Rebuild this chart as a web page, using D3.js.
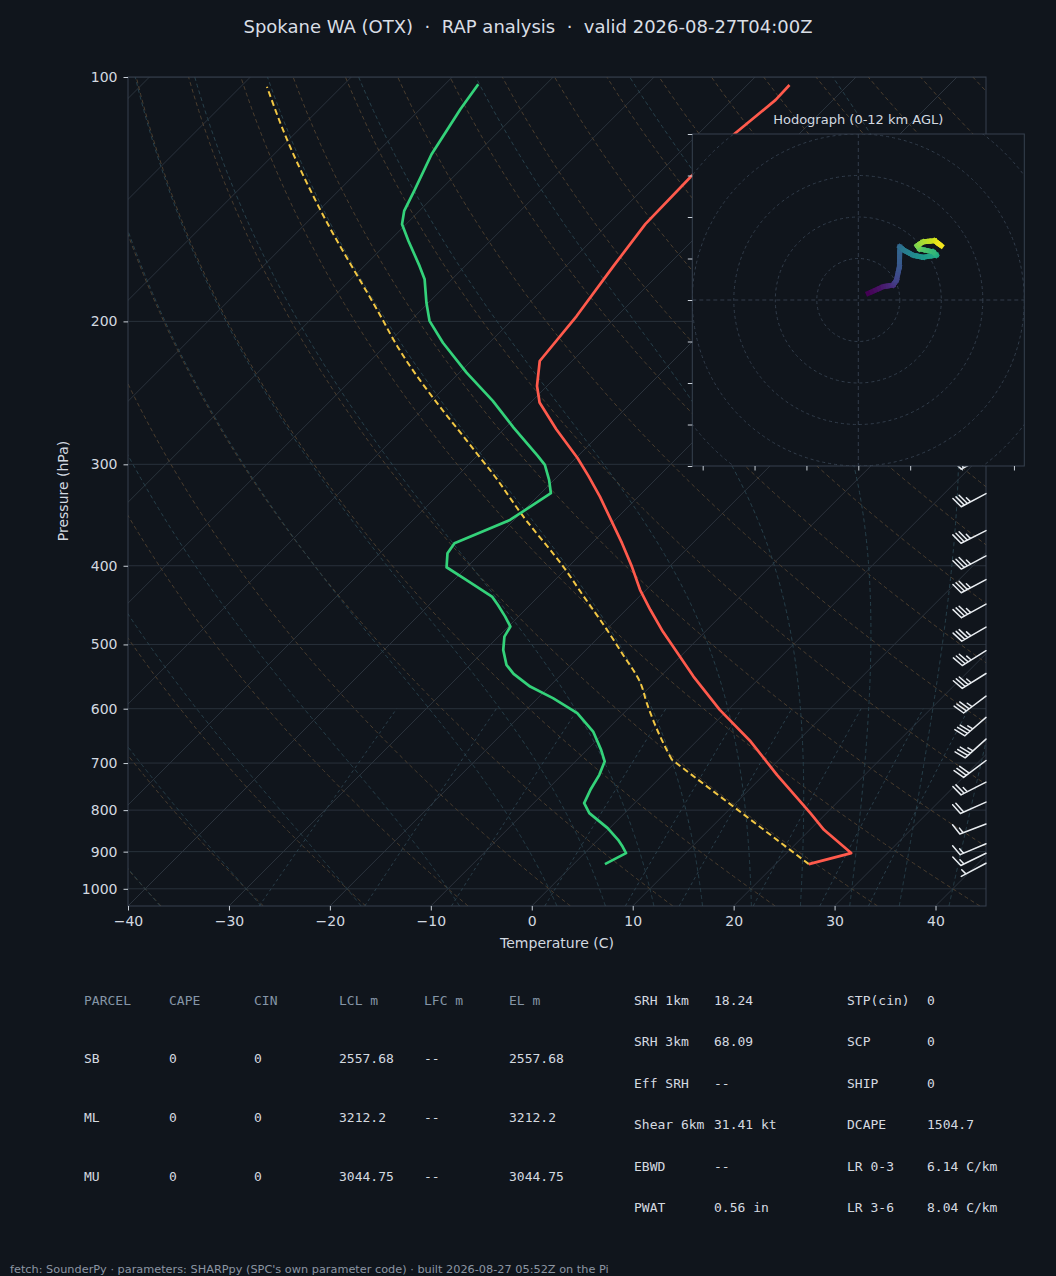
<!DOCTYPE html>
<html>
<head>
<meta charset="utf-8">
<script src="https://cdn.jsdelivr.net/npm/d3@7"></script>
<style>
  body { margin: 0; background: #10151c; }
  text { font-family: "DejaVu Sans", sans-serif; }
  .mono { font-family: "DejaVu Sans Mono", monospace; }
</style>
</head>
<body>
<svg id="chart" width="1056" height="1276"></svg>
<script>
// ---- sounding data ----
const tempP = [932.4, 903.7, 845.9, 806.8, 723.8, 658.6, 602.0, 547.8, 482.1, 453.2, 428.2, 401.0, 375.2, 328.8, 310.0, 294.4, 271.6, 251.8, 240.2, 223.8, 197.0, 171.0, 151.8, 132.4, 117.3, 106.7, 102.3];
const tempC = [23.3, 26.4, 21.4, 18.4, 11.3, 5.4, -0.8, -6.7, -14.2, -17.6, -20.6, -23.7, -27.0, -33.8, -37.0, -39.9, -44.8, -49.1, -51.0, -53.2, -54.0, -55.3, -56.3, -56.5, -56.4, -55.7, -55.8];

const dewP = [932.4, 903.7, 887.0, 870.4, 841.8, 806.8, 784.3, 755.2, 723.8, 696.8, 674.3, 640.2, 607.6, 582.2, 563.5, 543.5, 529.8, 507.8, 489.0, 475.3, 462.1, 446.9, 436.5, 416.4, 401.7, 386.0, 375.2, 351.3, 325.6, 313.5, 300.5, 292.9, 270.3, 250.6, 231.3, 212.5, 199.7, 189.7, 177.5, 171.0, 159.2, 151.8, 146.2, 138.1, 124.5, 109.6, 102.1];
const dewC = [3.1, 4.1, 3.1, 2.0, -0.2, -3.5, -5.0, -5.7, -6.3, -7.1, -8.6, -11.2, -14.6, -18.5, -21.9, -24.8, -26.4, -28.2, -29.4, -29.8, -31.3, -33.2, -34.6, -38.8, -42.0, -43.3, -43.6, -40.4, -39.0, -40.5, -42.4, -44.0, -49.2, -53.9, -59.3, -64.6, -68.1, -70.2, -72.7, -74.5, -78.1, -80.4, -81.5, -82.5, -84.4, -86.0, -86.7];

// parcel: surface, LCL, then the saturated ascent
const parcelP = [932.4, 693.5, 661.6, 590.6, 558.1, 512.6, 479.8, 436.5, 401.0, 348.0, 308.5, 288.0, 214.9, 196.0, 145.8, 119.6, 102.8];
const parcelC = [23.3, -0.6, -3.1, -8.7, -11.3, -16.1, -19.9, -25.5, -30.5, -39.4, -46.6, -50.9, -68.7, -73.7, -89.9, -100.1, -107.4];
const lclIndex = 1;

const barbP = [930, 904, 880, 832, 782, 739, 695, 654, 615, 579, 543, 509, 476, 446, 416, 389, 362, 326, 293];
const barbSpd = [6, 14, 16, 15, 20, 24, 29, 34, 35, 33, 34, 36, 35, 34, 35, 36, 35, 35, 36];
const barbDir = [242, 244, 247, 249, 246, 243, 233, 228, 229, 233, 238, 238, 240, 241, 242, 242, 243, 242, 242];

const hodoU = [2.4, 6.0, 8.4, 9.2, 9.9, 10.0, 11.0, 13.2, 15.6, 18.8, 18.0, 14.8, 14.2, 15.6, 18.4, 20.0];
const hodoV = [1.6, 3.2, 3.6, 4.8, 8.0, 12.8, 12.0, 10.8, 10.3, 10.8, 11.6, 12.3, 13.1, 14.0, 14.3, 13.1];

const tempTicks = [-40, -30, -20, -10, 0, 10, 20, 30, 40];
const presTicks = [100, 200, 300, 400, 500, 600, 700, 800, 900, 1000];

const parcelHead = ["PARCEL", "CAPE", "CIN", "LCL m", "LFC m", "EL m"];
const parcelNames = ["SB", "ML", "MU"];
const capeVals = ["0", "0", "0"];
const cinVals = ["0", "0", "0"];
const lclVals = ["2557.68", "3212.2", "3044.75"];
const lfcVals = ["--", "--", "--"];
const elVals = ["2557.68", "3212.2", "3044.75"];

const kinLabels = ["SRH 1km", "SRH 3km", "Eff SRH", "Shear 6km", "EBWD", "PWAT"];
const kinVals = ["18.24", "68.09", "--", "31.41 kt", "--", "0.56 in"];
const compLabels = ["STP(cin)", "SCP", "SHIP", "DCAPE", "LR 0-3", "LR 3-6"];
const compVals = ["0", "0", "0", "1504.7", "6.14 C/km", "8.04 C/km"];

const titleText = "Spokane WA (OTX)  \u00b7  RAP analysis  \u00b7  valid 2026-08-27T04:00Z";
const footerText = "fetch: SounderPy \u00b7 parameters: SHARPpy (SPC's own parameter code) \u00b7 built 2026-08-27 05:52Z on the Pi";

// ---- layout ----
const plotL = 128, plotR = 986, plotT = 77, plotB = 906;
const bg = "#10151c";

const svg = d3.select("#chart");
svg.append("rect").attr("width", 1056).attr("height", 1276).attr("fill", bg);

const x = d3.scaleLinear().domain([-40, 45]).range([plotL, plotR]);
const y = d3.scaleLog().domain([1050, 100]).range([plotB, plotT]);
const skewX = (t, p) => x(t) + (plotB - y(p));

svg.append("clipPath").attr("id", "plotclip")
    .append("rect").attr("x", plotL).attr("y", plotT)
    .attr("width", plotR - plotL).attr("height", plotB - plotT);

const plot = svg.append("g").attr("clip-path", "url(#plotclip)");

const line = d3.line()
    .x(d => skewX(d.t, d.p))
    .y(d => y(d.p));

// background: pressure grid + isotherms
plot.selectAll(".pgrid").data(presTicks).join("line")
    .attr("x1", plotL).attr("x2", plotR)
    .attr("y1", d => y(d)).attr("y2", d => y(d))
    .attr("stroke", "#28313b").attr("stroke-width", 1);

plot.selectAll(".iso").data(d3.range(-130, 50, 10)).join("path")
    .attr("d", t => line([{p: 1050, t: t}, {p: 100, t: t}]))
    .attr("stroke", "#2b333d").attr("stroke-width", 1).attr("fill", "none");

const pLevels = d3.range(1050, 99, -5);

// dry adiabats
const dryT0 = d3.range(-40, 201, 10);
plot.selectAll(".dry").data(dryT0).join("path")
    .attr("d", t0 => line(pLevels.map(p => ({p: p, t: (t0 + 273.15) * Math.pow(p / 1000, 0.2857) - 273.15}))))
    .attr("fill", "none").attr("stroke", "#4a3d2e").attr("stroke-width", 1)
    .attr("stroke-dasharray", "4,3");

// moist adiabats (RK4 on the saturated lapse rate)
const Rd = 287.04749, Cp = 1005.7, Lv = 2.50084e6, eps = 0.62195;
function satMix(p, T) {
    const tc = T - 273.15;
    const es = 6.112 * Math.exp(17.67 * tc / (tc + 243.5));
    if (p - es <= 1) return NaN;
    return eps * es / (p - es);
}
function dTdp(p, T) {
    const rs = satMix(p, T);
    return (Rd * T + Lv * rs) / (p * (Cp + Lv * Lv * rs * eps / (Rd * T * T)));
}
function moistLine(t0) {
    const run = (hStep, pEnd) => {
        const out = [];
        let p = 1000, T = t0 + 273.15;
        while ((hStep < 0 && p > pEnd) || (hStep > 0 && p < pEnd)) {
            const k1 = dTdp(p, T);
            const k2 = dTdp(p + hStep / 2, T + hStep / 2 * k1);
            const k3 = dTdp(p + hStep / 2, T + hStep / 2 * k2);
            const k4 = dTdp(p + hStep, T + hStep * k3);
            T += hStep / 6 * (k1 + 2 * k2 + 2 * k3 + k4);
            p += hStep;
            if (!isFinite(T)) break;
            out.push({p: p, t: T - 273.15});
        }
        return out;
    };
    const down = run(2.5, 1050).reverse();
    const up = run(-2.5, 100);
    return down.concat([{p: 1000, t: t0}], up);
}
const moistT0 = d3.range(-40, 0, 10).concat(d3.range(0, 61, 5));
plot.selectAll(".moist").data(moistT0).join("path")
    .attr("d", t0 => line(moistLine(t0)))
    .attr("fill", "none").attr("stroke", "#27404b").attr("stroke-width", 1)
    .attr("stroke-dasharray", "4,3");

// mixing ratio lines
const mixW = [0.0004, 0.001, 0.002, 0.004, 0.007, 0.01, 0.016, 0.024, 0.032];
const mixP = d3.range(1050, 599, -10);
plot.selectAll(".mix").data(mixW).join("path")
    .attr("d", w => line(mixP.map(p => {
        const e = p * w / (eps + w);
        const l = Math.log(e / 6.112);
        return {p: p, t: 243.5 * l / (17.67 - l)};
    })))
    .attr("fill", "none").attr("stroke", "#2a3f4b").attr("stroke-width", 1)
    .attr("stroke-dasharray", "3,3");

// profiles
const parcel = parcelP.map((p, i) => ({p: p, t: parcelC[i]}));
const dew = dewP.map((p, i) => ({p: p, t: dewC[i]}));
const temp = tempP.map((p, i) => ({p: p, t: tempC[i]}));

// dry leg straight, saturated leg smoothed so the LCL kink stays sharp
const parcelPath = line(parcel.slice(0, lclIndex + 1)) +
    line.curve(d3.curveMonotoneY)(parcel.slice(lclIndex));
line.curve(d3.curveLinear);

plot.append("path").attr("d", parcelPath)
    .attr("fill", "none").attr("stroke", "#f2c744").attr("stroke-width", 2)
    .attr("stroke-dasharray", "6,3.5");
plot.append("path").datum(dew).attr("d", line)
    .attr("fill", "none").attr("stroke", "#34d27a").attr("stroke-width", 2.7)
    .attr("stroke-linejoin", "round");
plot.append("path").datum(temp).attr("d", line)
    .attr("fill", "none").attr("stroke", "#ff5a4c").attr("stroke-width", 2.7)
    .attr("stroke-linejoin", "round");

// frame and axes
svg.append("rect").attr("x", plotL).attr("y", plotT)
    .attr("width", plotR - plotL).attr("height", plotB - plotT)
    .attr("fill", "none").attr("stroke", "#36414f").attr("stroke-width", 1);

const styleAxis = g => {
    g.select(".domain").remove();
    g.selectAll(".tick line").attr("stroke", "#c9d0d8");
    g.selectAll(".tick text").attr("fill", "#d3d9e0")
        .style("font-family", "DejaVu Sans").style("font-size", "14px");
};

svg.append("g").attr("transform", `translate(0,${plotB})`)
    .call(d3.axisBottom(x).tickValues(tempTicks).tickSize(4.5).tickPadding(5.5))
    .call(styleAxis);

svg.append("g").attr("transform", `translate(${plotL},0)`)
    .call(d3.axisLeft(y).tickValues(presTicks).tickFormat(d3.format("d")).tickSize(4.5).tickPadding(6))
    .call(styleAxis);

svg.append("text").attr("x", 557).attr("y", 948).attr("text-anchor", "middle")
    .attr("fill", "#d3d9e0").style("font-size", "14px").text("Temperature (C)");
svg.append("text").attr("transform", "translate(68,491) rotate(-90)").attr("text-anchor", "middle")
    .attr("fill", "#d3d9e0").style("font-size", "14px").text("Pressure (hPa)");

// wind barbs along the right edge
function barbPath(bx, by, dirDeg, spd) {
    const L = 28, bh = 0.4 * L, bw = 0.25 * L, sp = 0.125 * L;
    const r = dirDeg * Math.PI / 180;
    const ux = Math.sin(r), uy = -Math.cos(r);
    const nx = -uy, ny = ux;
    const at = (o, h) => [bx + ux * o + nx * h, by + uy * o + ny * h];
    let s = Math.round(spd / 5) * 5;
    const flags = Math.floor(s / 50); s -= flags * 50;
    const full = Math.floor(s / 10); s -= full * 10;
    const half = s >= 5;
    let d = `M${at(0, 0)}L${at(L, 0)}`;
    let off = L;
    for (let i = 0; i < flags; i++) {
        d += `M${at(off, 0)}L${at(off - bw / 2, bh)}L${at(off - bw, 0)}Z`;
        off -= bw + sp;
    }
    for (let i = 0; i < full; i++) {
        d += `M${at(off, 0)}L${at(off + bw / 2, bh)}`;
        off -= sp;
    }
    if (half) {
        if (off === L) off -= 1.5 * sp;
        d += `M${at(off, 0)}L${at(off + bw / 4, bh / 2)}`;
    }
    return d;
}

svg.append("g").selectAll("path").data(barbP).join("path")
    .attr("d", (p, i) => barbPath(plotR, y(p), barbDir[i], barbSpd[i]))
    .attr("fill", "#e8ecf0").attr("stroke", "#e8ecf0")
    .attr("stroke-width", 1.5).attr("stroke-linecap", "round");

// hodograph inset
const hx0 = 692.3, hy0 = 134, hs = 332;
const hx = d3.scaleLinear().domain([-40, 40]).range([hx0, hx0 + hs]);
const hy = d3.scaleLinear().domain([-40, 40]).range([hy0 + hs, hy0]);
const hodo = svg.append("g");

hodo.append("rect").attr("x", hx0).attr("y", hy0).attr("width", hs).attr("height", hs)
    .attr("fill", bg);

hodo.append("clipPath").attr("id", "hodoclip")
    .append("rect").attr("x", hx0).attr("y", hy0).attr("width", hs).attr("height", hs);

const hodoIn = hodo.append("g").attr("clip-path", "url(#hodoclip)");

hodoIn.selectAll("circle").data([10, 20, 30, 40, 50, 60]).join("circle")
    .attr("cx", hx(0)).attr("cy", hy(0)).attr("r", d => hx(d) - hx(0))
    .attr("fill", "none").attr("stroke", "#323d4b").attr("stroke-width", 1)
    .attr("stroke-dasharray", "3,3");
hodoIn.append("line").attr("x1", hx0).attr("x2", hx0 + hs).attr("y1", hy(0)).attr("y2", hy(0))
    .attr("stroke", "#323d4b").attr("stroke-dasharray", "4,3");
hodoIn.append("line").attr("x1", hx(0)).attr("x2", hx(0)).attr("y1", hy0).attr("y2", hy0 + hs)
    .attr("stroke", "#323d4b").attr("stroke-dasharray", "4,3");

// colour by height index, each leg split in short pieces for a smooth ramp
const nH = hodoU.length;
const pieces = [];
for (let i = 0; i < nH - 1; i++) {
    for (let k = 0; k < 4; k++) {
        const a = k / 4, b = (k + 1) / 4;
        pieces.push({
            x1: hodoU[i] + (hodoU[i + 1] - hodoU[i]) * a, y1: hodoV[i] + (hodoV[i + 1] - hodoV[i]) * a,
            x2: hodoU[i] + (hodoU[i + 1] - hodoU[i]) * b, y2: hodoV[i] + (hodoV[i + 1] - hodoV[i]) * b,
            c: (i + a) / (nH - 1)
        });
    }
}
hodoIn.selectAll(".seg").data(pieces).join("line")
    .attr("x1", d => hx(d.x1)).attr("y1", d => hy(d.y1))
    .attr("x2", d => hx(d.x2)).attr("y2", d => hy(d.y2))
    .attr("stroke", d => d3.interpolateViridis(d.c))
    .attr("stroke-width", 5).attr("stroke-linecap", "square");

hodo.append("rect").attr("x", hx0).attr("y", hy0).attr("width", hs).attr("height", hs)
    .attr("fill", "none").attr("stroke", "#36414f").attr("stroke-width", 1);

hodo.append("g").attr("transform", `translate(${hx0},0)`)
    .call(d3.axisLeft(hy).tickValues(d3.range(-40, 41, 10)).tickFormat("").tickSize(4.5))
    .call(styleAxis);
hodo.append("g").attr("transform", `translate(0,${hy0 + hs})`)
    .call(d3.axisBottom(hx).tickValues([-37.5, -25, -12.5, 0, 12.5, 25, 37.5]).tickFormat("").tickSize(4.5))
    .call(styleAxis);

hodo.append("text").attr("x", hx(0)).attr("y", 124).attr("text-anchor", "middle")
    .attr("fill", "#d3d9e0").style("font-size", "13px").text("Hodograph (0-12 km AGL)");

// title and footer
svg.append("text").attr("x", 528).attr("y", 33).attr("text-anchor", "middle")
    .attr("fill", "#d9dee5").style("font-size", "18px").style("white-space", "pre")
    .attr("xml:space", "preserve").text(titleText);

svg.append("text").attr("x", 10).attr("y", 1273)
    .attr("fill", "#8c96a3").style("font-size", "11.3px").text(footerText);

// parcel table
const colX = [84, 169, 254, 339, 424, 509];
const rowY = [1058.7, 1117.3, 1176];
const tbl = svg.append("g").attr("class", "mono").style("font-size", "13px");

tbl.selectAll(".hd").data(parcelHead).join("text")
    .attr("x", (d, i) => colX[i]).attr("y", 1000).attr("dy", "0.35em")
    .attr("fill", "#8595a7").attr("class", "mono").text(d => d);

const cols = [parcelNames, capeVals, cinVals, lclVals, lfcVals, elVals];
cols.forEach((col, c) => {
    tbl.selectAll(".c" + c).data(col).join("text")
        .attr("x", colX[c]).attr("y", (d, r) => rowY[r]).attr("dy", "0.35em")
        .attr("fill", "#d5dae0").attr("class", "mono").text(d => d);
});

// index tables
const idxY = [1000, 1041.7, 1083, 1124.3, 1166, 1207.3];
const idxCols = [[634, kinLabels], [714, kinVals], [847, compLabels], [927, compVals]];
idxCols.forEach(([cx, col], c) => {
    tbl.selectAll(".k" + c).data(col).join("text")
        .attr("x", cx).attr("y", (d, r) => idxY[r]).attr("dy", "0.35em")
        .attr("fill", "#d5dae0").attr("class", "mono")
        .attr("xml:space", "preserve").text(d => d);
});
</script>
</body>
</html>
